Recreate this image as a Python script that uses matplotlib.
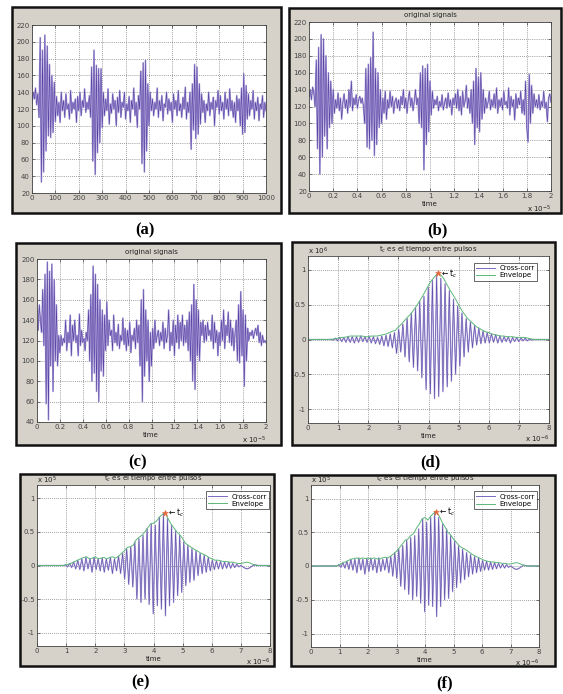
import numpy as np
import matplotlib
matplotlib.use('Agg')
import matplotlib.pyplot as plt
from matplotlib.patches import Rectangle

W, H = 563, 694

# (a) raw received signal, one value every 5 samples (0..1000)
sig_a = [128, 140, 132, 145, 125, 138, 110, 205, 33, 190, 45, 208, 70, 195, 88, 173, 86, 160, 92, 152,
         105, 135, 112, 128, 104, 140, 118, 130, 110, 138, 120, 126, 108, 142, 115, 128, 120, 132, 104, 135,
         118, 140, 112, 130, 122, 144, 116, 128, 120, 136, 110, 170, 58, 190, 42, 172, 68, 168, 80, 168,
         98, 140, 112, 132, 118, 144, 102, 126, 115, 138, 120, 130, 100, 134, 116, 142, 110, 128, 122, 140,
         108, 126, 118, 135, 104, 130, 120, 145, 112, 128, 98, 136, 120, 165, 55, 175, 45, 178, 70, 150,
         100, 140, 118, 132, 112, 128, 120, 145, 110, 130, 118, 136, 106, 126, 122, 140, 114, 132, 118, 128,
         104, 138, 120, 130, 112, 142, 118, 126, 110, 134, 120, 146, 108, 128, 116, 140, 72, 150, 95, 173,
         85, 170, 90, 150, 102, 138, 116, 130, 104, 126, 118, 140, 112, 128, 120, 134, 100, 130, 122, 142,
         114, 136, 118, 128, 108, 140, 120, 132, 112, 144, 118, 130, 110, 128, 104, 136, 118, 132, 100, 145,
         90, 162, 92, 148, 108, 138, 112, 130, 120, 142, 108, 128, 118, 134, 106, 126, 120, 136, 110, 128,
         118]

# (b) original signal, time in units of 1e-5 s, step 0.01
sig_b = [132, 140, 128, 143, 136, 120, 175, 70, 190, 40, 205, 60, 200, 85, 180, 70, 160, 95, 150, 100,
         140, 112, 128, 118, 136, 115, 130, 105, 125, 135, 118, 128, 112, 140, 120, 150, 115, 130, 122, 134,
         118, 128, 132, 124, 130, 120, 100, 165, 72, 170, 70, 178, 80, 208, 62, 165, 75, 160, 95, 140,
         100, 130, 112, 138, 105, 128, 118, 138, 120, 132, 112, 126, 130, 118, 128, 115, 132, 122, 140, 118,
         130, 112, 128, 138, 120, 130, 115, 126, 140, 122, 130, 100, 160, 95, 168, 45, 165, 75, 170, 90,
         150, 110, 138, 118, 128, 122, 132, 115, 126, 120, 134, 116, 124, 130, 118, 136, 120, 128, 110, 130,
         122, 135, 118, 140, 115, 132, 110, 138, 120, 126, 145, 118, 130, 112, 140, 100, 150, 75, 165, 95,
         155, 90, 160, 105, 140, 112, 130, 118, 125, 138, 116, 128, 120, 135, 118, 142, 112, 128, 120, 130,
         116, 138, 122, 126, 118, 142, 110, 132, 120, 128, 104, 135, 118, 130, 122, 138, 112, 128, 110, 150,
         95, 78, 158, 100, 145, 112, 135, 120, 128, 118, 134, 116, 126, 120, 138, 118, 125, 102, 130, 135,
         125]

# (c) original signal, time in units of 1e-5 s, step 0.01
sig_c = [135, 130, 155, 140, 128, 170, 115, 185, 58, 197, 42, 188, 95, 195, 70, 180, 100, 155, 95, 125,
         108, 125, 115, 122, 118, 140, 110, 128, 118, 145, 105, 135, 120, 140, 118, 125, 105, 146, 115, 130,
         118, 122, 110, 128, 120, 150, 100, 165, 80, 193, 88, 185, 70, 175, 60, 160, 90, 150, 85, 145,
         110, 158, 115, 140, 125, 130, 110, 145, 118, 128, 115, 136, 112, 125, 120, 142, 116, 132, 110, 130,
         115, 138, 108, 125, 120, 132, 112, 140, 118, 135, 95, 160, 60, 170, 85, 150, 100, 140, 80, 128,
         95, 132, 112, 140, 118, 125, 130, 115, 128, 120, 138, 112, 132, 118, 126, 150, 110, 128, 115, 140,
         105, 135, 118, 145, 112, 138, 120, 145, 115, 135, 118, 140, 110, 148, 100, 155, 80, 175, 72, 160,
         105, 150, 100, 138, 125, 140, 118, 135, 120, 138, 125, 130, 120, 145, 112, 138, 118, 130, 105, 128,
         115, 140, 120, 150, 112, 135, 125, 148, 118, 140, 115, 132, 110, 128, 140, 100, 155, 98, 168, 105,
         150, 75, 145, 100, 132, 120, 128, 125, 130, 122, 128, 132, 125, 135, 118, 128, 115, 125, 118, 120,
         118]

# (d)-(f) cross-correlation, time in units of 1e-6 s, step 0.07
xc_d = [0, 0, 0, 0, 0, 0, 0, 0, 0, 0, 0, 0,
        -0.01, 0.02, -0.02, 0.03, -0.03, 0.03, -0.04, 0.04, -0.04, 0.04, -0.05, 0.04, -0.04, 0.05, -0.03, 0.04,
        -0.04, 0.05, -0.05, 0.04, -0.06, 0.03, -0.07, 0.05, -0.09, 0.06, -0.10, 0.08, -0.12, 0.10, -0.20, 0.15,
        -0.18, 0.22, -0.25, 0.30, -0.32, 0.38, -0.40, 0.45, -0.45, 0.55, -0.55, 0.62, -0.72, 0.75, -0.78, 0.85,
        -0.85, 0.93, -0.82, 0.88, -0.75, 0.80, -0.68, 0.70, -0.60, 0.58, -0.50, 0.48, -0.38, 0.38, -0.25, 0.30,
        -0.18, 0.25, -0.12, 0.20, -0.08, 0.16, -0.06, 0.12, -0.05, 0.10, -0.05, 0.08, -0.04, 0.07, -0.05, 0.05,
        -0.04, 0.04, -0.03, 0.04, -0.05, 0.03, -0.03, 0.03, -0.03, 0.02, -0.02, 0.02, -0.02, 0.01, -0.01,
        0, 0, 0, 0, 0, 0, 0, 0]
xc_e = [0, 0, 0, 0, 0, 0, 0, 0, 0, 0, 0, 0, 0, 0,
        0.01, -0.02, 0.03, -0.03, 0.05, -0.05, 0.08, -0.06, 0.10, -0.08, 0.12, -0.05, 0.10, -0.10, 0.12, -0.06,
        0.10, -0.08, 0.11, -0.10, 0.10, -0.07, 0.12, -0.12, 0.10, -0.08, 0.14, -0.12, 0.18, -0.20, 0.25, -0.28,
        0.28, -0.32, 0.35, -0.50, 0.40, -0.55, 0.45, -0.50, 0.55, -0.58, 0.62, -0.72, 0.60, -0.60, 0.72, -0.65,
        0.78, -0.75, 0.70, -0.60, 0.60, -0.55, 0.52, -0.45, 0.45, -0.40, 0.35, -0.30, 0.30, -0.25, 0.25, -0.22,
        0.22, -0.15, 0.18, -0.12, 0.15, -0.10, 0.12, -0.08, 0.08, -0.06, 0.07, -0.05, 0.06, -0.05, 0.05, -0.04,
        0.05, -0.04, 0.03, -0.03, 0.02, -0.02, 0.0, -0.02, -0.04, -0.05, -0.04, -0.02, 0.0, 0.01,
        0, 0, 0, 0, 0, 0, 0]
xc_f = [0, 0, 0, 0, 0, 0, 0, 0, 0, 0, 0, 0, 0, 0,
        0.02, -0.02, 0.05, -0.03, 0.07, -0.05, 0.10, -0.06, 0.10, -0.10, 0.12, -0.06, 0.10, -0.12, 0.11, -0.08,
        0.12, -0.06, 0.10, -0.10, 0.12, -0.08, 0.10, -0.06, 0.12, -0.10, 0.14, -0.15, 0.20, -0.18, 0.25, -0.30,
        0.30, -0.35, 0.38, -0.42, 0.42, -0.50, 0.45, -0.45, 0.55, -0.55, 0.70, -0.68, 0.65, -0.58, 0.72, -0.60,
        0.80, -0.75, 0.72, -0.60, 0.62, -0.50, 0.55, -0.48, 0.45, -0.38, 0.38, -0.32, 0.30, -0.25, 0.25, -0.20,
        0.20, -0.16, 0.17, -0.12, 0.14, -0.10, 0.12, -0.08, 0.08, -0.06, 0.07, -0.06, 0.06, -0.05, 0.05, -0.04,
        0.04, -0.03, 0.03, -0.03, 0.02, -0.02, 0.0, -0.02, -0.04, -0.05, -0.04, -0.02, 0.0, 0.01,
        0, 0, 0, 0, 0, 0, 0]

# envelopes, step 0.1 (0..8)
env_d = [0, 0, 0, 0, 0, 0, 0, 0,
         0.005, 0.01, 0.02, 0.03, 0.03, 0.04, 0.05, 0.05, 0.05, 0.05, 0.05, 0.04, 0.04, 0.05, 0.05, 0.05,
         0.06, 0.07, 0.08, 0.10, 0.12, 0.13, 0.18, 0.22, 0.27, 0.32, 0.36, 0.42, 0.48, 0.55, 0.62, 0.70,
         0.78, 0.85, 0.90, 0.95, 0.93, 0.88, 0.80, 0.72, 0.65, 0.58, 0.50, 0.42, 0.36, 0.30, 0.26, 0.22,
         0.18, 0.16, 0.13, 0.11, 0.10, 0.08, 0.07, 0.06, 0.05, 0.05, 0.04, 0.04, 0.04, 0.03, 0.03, 0.03,
         0.03, 0.02, 0.01, 0, 0, 0, 0, 0, 0]
env_e = [0, 0, 0, 0, 0, 0, 0, 0, 0, 0,
         0.01, 0.02, 0.04, 0.06, 0.08, 0.10, 0.12, 0.13, 0.10, 0.11, 0.13, 0.10, 0.11, 0.12, 0.10, 0.12,
         0.13, 0.11, 0.14, 0.18, 0.22, 0.27, 0.28, 0.30, 0.38, 0.42, 0.45, 0.50, 0.56, 0.62, 0.63, 0.66,
         0.72, 0.76, 0.78, 0.70, 0.62, 0.56, 0.50, 0.46, 0.40, 0.33, 0.30, 0.27, 0.24, 0.22, 0.19, 0.17,
         0.15, 0.12, 0.10, 0.08, 0.08, 0.07, 0.06, 0.06, 0.05, 0.05, 0.04, 0.03, 0.03, 0.04, 0.05, 0.04,
         0.02, 0.01, 0, 0, 0, 0, 0]
env_f = [0, 0, 0, 0, 0, 0, 0, 0, 0, 0,
         0.02, 0.04, 0.06, 0.08, 0.10, 0.11, 0.12, 0.10, 0.12, 0.11, 0.12, 0.10, 0.12, 0.11, 0.10, 0.12,
         0.13, 0.12, 0.15, 0.18, 0.22, 0.27, 0.32, 0.38, 0.40, 0.45, 0.48, 0.56, 0.62, 0.70, 0.72, 0.68,
         0.74, 0.78, 0.80, 0.74, 0.65, 0.58, 0.50, 0.46, 0.40, 0.35, 0.30, 0.27, 0.25, 0.22, 0.19, 0.16,
         0.14, 0.12, 0.10, 0.08, 0.07, 0.06, 0.06, 0.05, 0.05, 0.04, 0.04, 0.03, 0.03, 0.04, 0.05, 0.04,
         0.02, 0.01, 0, 0, 0, 0, 0]

DARK = '#523a9e'
LIGHT = '#ada2da'
ENV = '#5cb878'
FRAME = '#d6d2ca'


def frac(x0, y0, x1, y1):
    return [x0 / W, 1 - y1 / H, (x1 - x0) / W, (y1 - y0) / H]


def panel(fig, box, ax_box, label, label_xy):
    fig.add_artist(Rectangle((box[0] / W, 1 - box[3] / H), (box[2] - box[0]) / W,
                             (box[3] - box[1]) / H, transform=fig.transFigure,
                             facecolor=FRAME, edgecolor='#111111', lw=1.8, zorder=-1))
    ax = fig.add_axes(frac(*ax_box))
    ax.set_facecolor('white')
    ax.grid(True, linestyle=(0, (1.2, 1.8)), color='#666666', lw=0.5)
    ax.tick_params(direction='in', length=2, width=0.5, labelsize=5, pad=1.5,
                   colors='#444444', top=True, right=True)
    for s in ax.spines.values():
        s.set_linewidth(0.6)
        s.set_color('#444444')
    fig.text(label_xy[0] / W, 1 - label_xy[1] / H, label, ha='center', va='center',
             fontsize=12, fontweight='bold', family='Liberation Serif')
    return ax


def two_tone(ax, t, y, lw=0.6, label=None):
    ax.plot(t, y, color=LIGHT, lw=lw * 2.0)
    ax.plot(t, y, color=DARK, lw=lw * 0.6, label=label)


def ptext(fig, x, y, s, **kw):
    fig.text(x / W, 1 - y / H, s, fontsize=5, color='#222222', **kw)


fig = plt.figure(figsize=(W / 100, H / 100), dpi=100)
fig.patch.set_facecolor('white')

# (a)
ax = panel(fig, (12, 7, 281, 213), (32, 25, 266, 193), '(a)', (145, 230))
two_tone(ax, np.arange(len(sig_a)) * 5, sig_a)
ax.set_xlim(0, 1000)
ax.set_ylim(20, 220)
ax.set_xticks(range(0, 1001, 100))
ax.set_yticks(range(20, 221, 20))

# (b)
ax = panel(fig, (289, 8, 561, 213), (309, 22, 551, 191), '(b)', (437, 230))
two_tone(ax, np.arange(len(sig_b)) * 0.01, sig_b)
ax.set_xlim(0, 2)
ax.set_ylim(20, 220)
ax.set_xticks(np.arange(0, 2.01, 0.2))
ax.set_xticklabels(['0', '0.2', '0.4', '0.6', '0.8', '1', '1.2', '1.4', '1.6', '1.8', '2'])
ax.set_yticks(range(20, 221, 20))
ptext(fig, 430, 15, 'original signals', ha='center', va='center')
ptext(fig, 430, 204, 'time', ha='center', va='center')
ptext(fig, 551, 209, 'x 10$^{-5}$', ha='right', va='center')

# (c)
ax = panel(fig, (16, 243, 281, 445), (37, 259, 266, 422), '(c)', (138, 462))
two_tone(ax, np.arange(len(sig_c)) * 0.01, sig_c)
ax.set_xlim(0, 2)
ax.set_ylim(40, 200)
ax.set_xticks(np.arange(0, 2.01, 0.2))
ax.set_xticklabels(['0', '0.2', '0.4', '0.6', '0.8', '1', '1.2', '1.4', '1.6', '1.8', '2'])
ax.set_yticks(range(40, 201, 20))
ptext(fig, 151, 252, 'original signals', ha='center', va='center')
ptext(fig, 151, 435, 'time', ha='center', va='center')
ptext(fig, 266, 440, 'x 10$^{-5}$', ha='right', va='center')


def xcorr_panel(box, ax_box, label, label_xy, xc, env, exp_txt, leg_anchor):
    ax = panel(fig, box, ax_box, label, label_xy)
    t = np.arange(len(xc)) * 0.07
    te = np.arange(len(env)) * 0.1
    two_tone(ax, t, xc, lw=0.5, label='Cross-corr')
    ax.plot(te, env, color=ENV, lw=0.7, label='Envelope')
    k = int(np.argmax(env))
    ax.plot(te[k], env[k], '*', color='#e8663a', ms=5, mew=0.4)
    ax.text(te[k] + 0.1, env[k], '\u2190 t$_c$', fontsize=5.5, va='center', ha='left')
    ax.set_xlim(0, 8)
    ax.set_ylim(-1.2, 1.2)
    ax.set_xticks(range(0, 9))
    ax.set_yticks([-1, -0.5, 0, 0.5, 1])
    ax.set_yticklabels(['-1', '-0.5', '0', '0.5', '1'])
    leg = ax.legend(loc='upper right', fontsize=5, frameon=True, fancybox=False,
                    handlelength=2.8, borderpad=0.3, labelspacing=0.2, handletextpad=0.6,
                    bbox_to_anchor=leg_anchor, borderaxespad=0)
    leg.get_frame().set_edgecolor('#222222')
    leg.get_frame().set_linewidth(0.6)
    leg.legend_handles[0].set_color('#7a68c2')
    leg.legend_handles[0].set_linewidth(0.7)
    cx = (ax_box[0] + ax_box[2]) / 2
    ptext(fig, cx, ax_box[1] - 6, 't$_c$ es el tiempo entre pulsos', ha='center', va='center')
    ptext(fig, cx, ax_box[3] + 13, 'time', ha='center', va='center')
    ptext(fig, ax_box[2], ax_box[3] + 16, 'x 10$^{-6}$', ha='right', va='center')
    ptext(fig, ax_box[0], ax_box[1] - 5, exp_txt, ha='left', va='center')
    return ax


xcorr_panel((292, 242, 555, 445), (308, 256, 549, 423), '(d)', (430, 462), xc_d, env_d,
            'x 10$^{6}$', (0.95, 0.958))
xcorr_panel((20, 474, 274, 666), (37, 485, 270, 646), '(e)', (140, 682), xc_e, env_e,
            'x 10$^{5}$', (0.995, 0.96))
xcorr_panel((291, 475, 555, 666), (311, 485, 539, 647), '(f)', (445, 683), xc_f, env_f,
            'x 10$^{5}$', (0.99, 0.96))

fig.savefig('out.png', dpi=100, facecolor='white')
